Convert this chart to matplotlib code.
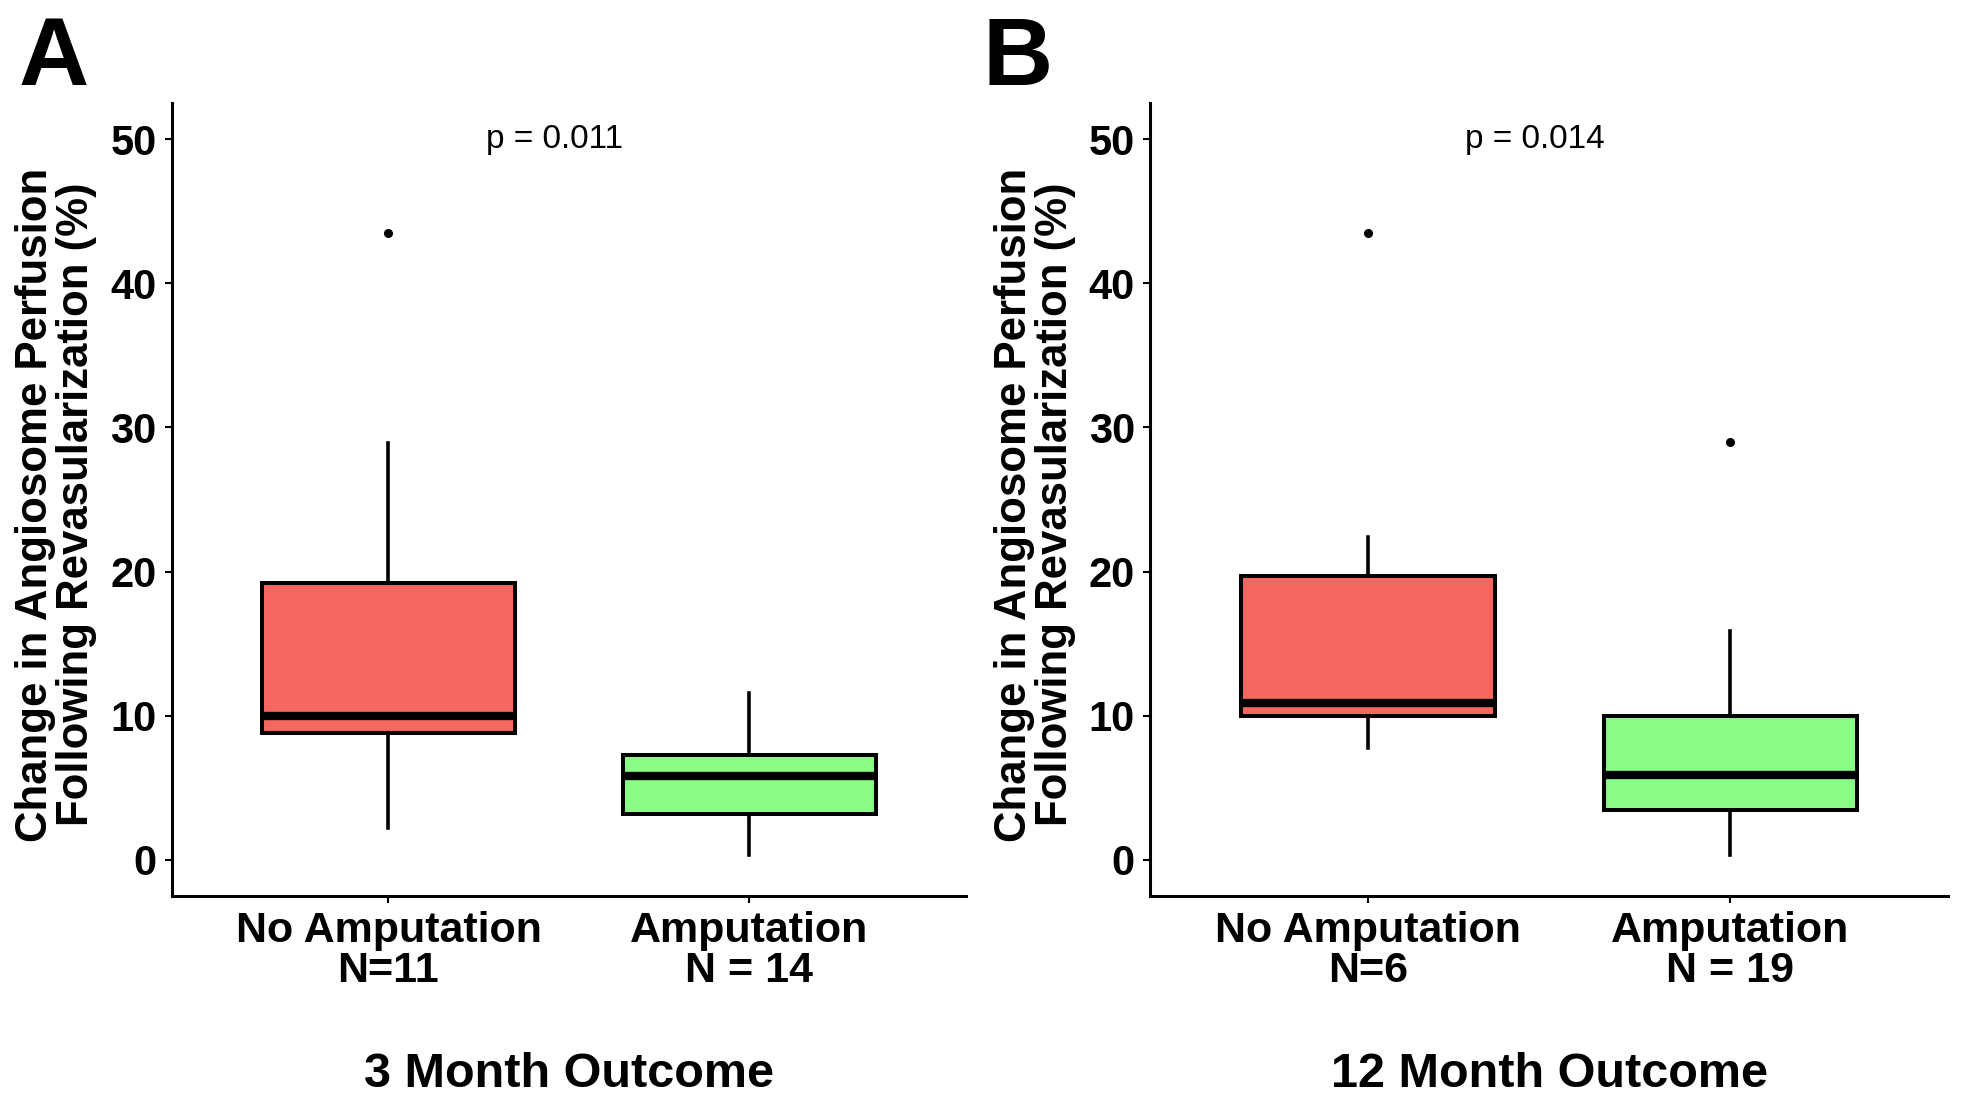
import matplotlib
matplotlib.use('Agg')
import matplotlib.pyplot as plt

plt.rcParams['font.family'] = ['Liberation Sans', 'DejaVu Sans']

# Datos (estadisticos de cada caja)
categorias_a = ['No Amputation\nN=11', 'Amputation\nN = 14']
categorias_b = ['No Amputation\nN=6', 'Amputation\nN = 19']

# [bigote inf, Q1, mediana, Q3, bigote sup]
no_amp_3m = [2.25, 8.83, 10.0, 19.2, 28.9]
amp_3m = [0.35, 3.2, 5.8, 7.3, 11.6]
no_amp_12m = [7.8, 10.0, 10.9, 19.7, 22.4]
amp_12m = [0.35, 3.46, 5.9, 10.0, 15.9]

atipicos_3m = [[43.5], []]
atipicos_12m = [[43.5], [29.0]]

p_valores = ['p = 0.011', 'p = 0.014']
titulos_x = ['3 Month Outcome', '12 Month Outcome']
letras = ['A', 'B']

colores = ['#F6685F', '#88FC84']


def stats(vals, fliers, label):
    return dict(whislo=vals[0], q1=vals[1], med=vals[2], q3=vals[3],
                whishi=vals[4], fliers=fliers, label=label)


fig = plt.figure(figsize=(19.67, 10.97), dpi=100)
ax_a = fig.add_axes([0.0874, 0.1832, 0.4037, 0.7229])
ax_b = fig.add_axes([0.5847, 0.1832, 0.4057, 0.7229])

paneles = [
    (ax_a, [no_amp_3m, amp_3m], atipicos_3m, categorias_a),
    (ax_b, [no_amp_12m, amp_12m], atipicos_12m, categorias_b),
]

for i, (ax, series, atip, cats) in enumerate(paneles):
    datos = [stats(series[j], atip[j], cats[j]) for j in range(2)]
    bp = ax.bxp(datos, positions=[1, 2], widths=0.7, patch_artist=True,
                showcaps=False,
                boxprops=dict(linewidth=2.9, edgecolor='black'),
                medianprops=dict(color='black', linewidth=6, solid_capstyle='butt'),
                whiskerprops=dict(color='black', linewidth=2.6),
                flierprops=dict(marker='o', markersize=5.5, markerfacecolor='black',
                                markeredgecolor='black'))
    for caja, c in zip(bp['boxes'], colores):
        caja.set_facecolor(c)

    ax.set_xlim(0.4, 2.6)
    ax.set_ylim(-2.5, 52.5)
    ax.set_yticks([0, 10, 20, 30, 40, 50])
    ax.set_xticks([1, 2])
    ax.set_xticklabels(cats, fontsize=31, fontweight='bold', linespacing=1.0)
    for lab in ax.get_yticklabels():
        lab.set_fontsize(30)
        lab.set_fontweight('bold')
    ax.tick_params(axis='both', direction='out', length=5, width=1.5, pad=6, colors='black')
    ax.spines['top'].set_visible(False)
    ax.spines['right'].set_visible(False)
    ax.spines['left'].set_linewidth(2.2)
    ax.spines['bottom'].set_linewidth(2.2)

    ax.text(1.46, 50, p_valores[i], ha='center', va='center', fontsize=24)
    ax.set_xlabel(titulos_x[i], fontsize=35, fontweight='bold', labelpad=44)

# Etiquetas del eje y y letras de panel
fig.text(56 / 1967, 0.540, 'Change in Angiosome Perfusion\nFollowing Revasularization (%)',
         rotation=90, ha='center', va='center', fontsize=31.5, fontweight='bold',
         linespacing=1.0, multialignment='center')
fig.text(1035 / 1967, 0.540, 'Change in Angiosome Perfusion\nFollowing Revasularization (%)',
         rotation=90, ha='center', va='center', fontsize=31.5, fontweight='bold',
         linespacing=1.0, multialignment='center')
fig.text(19 / 1967, 1 - 85 / 1097, letras[0], fontsize=70, fontweight='bold', va='baseline')
fig.text(982 / 1967, 1 - 85 / 1097, letras[1], fontsize=70, fontweight='bold', va='baseline')

fig.savefig('out.png', dpi=100)
